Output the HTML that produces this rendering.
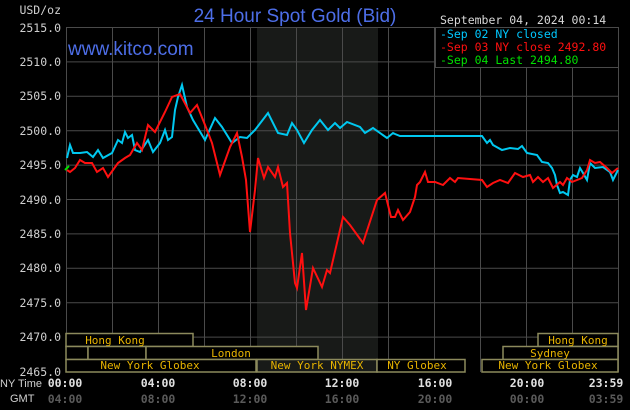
<!DOCTYPE html>
<html><head><meta charset="utf-8"><style>
html,body{margin:0;padding:0;background:#000;}
svg{display:block}
</style></head><body>
<svg width="630" height="410" xmlns="http://www.w3.org/2000/svg" font-family="'DejaVu Sans Mono','Liberation Mono',monospace">
<rect width="630" height="410" fill="#000"/>
<rect x="257" y="27" width="121" height="345" fill="#181a18"/>
<g stroke="#4a4a4a" stroke-width="1">
<line x1="66" y1="27.5" x2="618" y2="27.5"/>
<line x1="66" y1="61.9" x2="618" y2="61.9"/>
<line x1="66" y1="96.3" x2="618" y2="96.3"/>
<line x1="66" y1="130.7" x2="618" y2="130.7"/>
<line x1="66" y1="165.1" x2="618" y2="165.1"/>
<line x1="66" y1="199.5" x2="618" y2="199.5"/>
<line x1="66" y1="233.9" x2="618" y2="233.9"/>
<line x1="66" y1="268.3" x2="618" y2="268.3"/>
<line x1="66" y1="302.7" x2="618" y2="302.7"/>
<line x1="66" y1="337.1" x2="618" y2="337.1"/>
<line x1="66.5" y1="27" x2="66.5" y2="372"/>
<line x1="112.5" y1="27" x2="112.5" y2="372"/>
<line x1="158.5" y1="27" x2="158.5" y2="372"/>
<line x1="204.5" y1="27" x2="204.5" y2="372"/>
<line x1="250.5" y1="27" x2="250.5" y2="372"/>
<line x1="296.5" y1="27" x2="296.5" y2="372"/>
<line x1="342.5" y1="27" x2="342.5" y2="372"/>
<line x1="388.5" y1="27" x2="388.5" y2="372"/>
<line x1="434.5" y1="27" x2="434.5" y2="372"/>
<line x1="480.5" y1="27" x2="480.5" y2="372"/>
<line x1="526.5" y1="27" x2="526.5" y2="372"/>
<line x1="572.5" y1="27" x2="572.5" y2="372"/>
<line x1="618.5" y1="27" x2="618.5" y2="372"/>
</g>
<g font-size="11.5" fill="#d0d0d0" text-anchor="end">
<text x="61" y="14">USD/oz</text>
<text x="61" y="32">2515.0</text>
<text x="61" y="66">2510.0</text>
<text x="61" y="100">2505.0</text>
<text x="61" y="135">2500.0</text>
<text x="61" y="169">2495.0</text>
<text x="61" y="204">2490.0</text>
<text x="61" y="238">2485.0</text>
<text x="61" y="272">2480.0</text>
<text x="61" y="307">2475.0</text>
<text x="61" y="341">2470.0</text>
<text x="61" y="376">2465.0</text>
</g>
<text x="295" y="22" text-anchor="middle" font-family="'Liberation Sans',sans-serif" font-size="19" fill="#4d6ee8">24 Hour Spot Gold (Bid)</text>
<text x="68" y="55" font-family="'Liberation Sans',sans-serif" font-size="19" fill="#4d6ee8">www.kitco.com</text>
<text x="440" y="24" font-size="11.5" fill="#d8d8d8">September 04, 2024 00:14</text>
<rect x="435.5" y="27.5" width="183" height="40" fill="#000" stroke="#4a4a4a"/>
<g font-size="11.5">
<text x="440" y="38" fill="#00c8ff">-Sep 02 NY closed</text>
<text x="440" y="51" fill="#ff1010">-Sep 03 NY close 2492.80</text>
<text x="440" y="64" fill="#00e000">-Sep 04 Last 2494.80</text>
</g>
<polyline fill="none" stroke="#00c8f0" stroke-width="2" points="67,158 70,145 73,153 80,153 87,152 93,157 98,150 103,158 112,153 118,140 122,143 125,132 128,138 132,135 135,150 140,152 148,140 153,152 160,143 165,130 168,140 172,137 175,110 178,97 182,85 187,107 193,120 205,140 215,118 222,127 232,143 240,137 247,138 255,130 268,113 278,133 287,135 292,123 297,130 304,143 312,130 320,120 328,130 335,123 340,128 347,122 360,127 365,133 373,128 387,138 393,133 395,134 400,136 482,136 487,143 490,140 493,145 502,150 510,148 518,149 522,146 527,153 537,155 542,162 548,163 552,168 555,175 557,185 560,193 563,192 568,195 570,180 573,175 577,177 580,168 583,173 587,180 590,163 595,168 603,167 610,172 613,180 618,170"/>
<polyline fill="none" stroke="#ff1010" stroke-width="2" points="67,170 70,172 75,168 80,160 85,163 92,163 97,172 103,168 108,177 113,170 118,163 125,158 130,155 137,143 142,150 148,125 155,132 165,112 172,97 180,94 190,113 197,105 207,130 212,143 220,175 230,147 237,133 242,157 246,180 250,232 255,190 258,158 264,178 268,167 275,177 278,167 283,187 287,183 290,233 295,283 297,288 302,253 306,310 313,268 322,287 327,270 330,273 343,217 350,225 363,243 377,200 385,193 391,217 395,217 398,210 403,220 410,212 415,197 417,185 420,182 425,172 428,182 435,182 443,185 450,178 455,182 458,178 482,180 487,187 493,183 500,180 508,183 515,173 523,177 530,175 533,182 538,177 543,182 548,178 553,188 560,182 563,185 567,178 572,182 582,178 587,170 590,160 595,163 600,162 607,168 612,173 618,168"/>
<polyline fill="none" stroke="#00e000" stroke-width="2" points="65,170 67,168 69,166"/>
<g fill="#000" stroke="#8c8a5c" stroke-width="1.5">
<rect x="66" y="333.5" width="127" height="13"/>
<rect x="538" y="333.5" width="80" height="13"/>
<rect x="66" y="346.5" width="22" height="13"/>
<rect x="88" y="346.5" width="58" height="13"/>
<rect x="146" y="346.5" width="172" height="13"/>
<rect x="503" y="346.5" width="115" height="13"/>
<rect x="66" y="359.5" width="190" height="12.5"/>
<rect x="257" y="359.5" width="120" height="12.5" fill="#181a18"/>
<rect x="377" y="359.5" width="88" height="12.5"/>
<rect x="482" y="359.5" width="136" height="12.5"/>
</g>
<g font-size="11" fill="#e8b400" text-anchor="middle">
<text x="115" y="344">Hong Kong</text>
<text x="578" y="344">Hong Kong</text>
<text x="231" y="357">London</text>
<text x="550" y="357">Sydney</text>
<text x="150" y="369">New York Globex</text>
<text x="317" y="369">New York NYMEX</text>
<text x="417" y="369">NY Globex</text>
<text x="548" y="369">New York Globex</text>
</g>
<g font-size="11.5" text-anchor="middle">
<text x="0" y="387" text-anchor="start" fill="#d0d0d0" font-family="'Liberation Sans',sans-serif" font-size="11">NY Time</text>
<text x="10" y="402" text-anchor="start" fill="#d0d0d0" font-family="'Liberation Sans',sans-serif" font-size="11">GMT</text>
<g fill="#e0e0e0" font-weight="bold">
<text x="65" y="387">00:00</text>
<text x="158" y="387">04:00</text>
<text x="250" y="387">08:00</text>
<text x="342" y="387">12:00</text>
<text x="435" y="387">16:00</text>
<text x="527" y="387">20:00</text>
<text x="606" y="387">23:59</text>
</g>
<g fill="#5a5a5a" font-weight="bold">
<text x="65" y="403">04:00</text>
<text x="158" y="403">08:00</text>
<text x="250" y="403">12:00</text>
<text x="342" y="403">16:00</text>
<text x="435" y="403">20:00</text>
<text x="527" y="403">00:00</text>
<text x="606" y="403">03:59</text>
</g>
</g>
</svg>
</body></html>
